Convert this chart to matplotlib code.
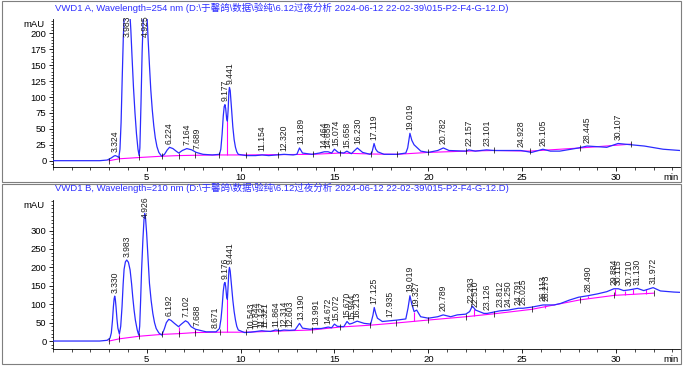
import numpy as np
import matplotlib.pyplot as plt
from matplotlib.patches import Rectangle
from matplotlib.ticker import MultipleLocator, FixedLocator

plt.rcParams['font.family'] = ['Liberation Sans', 'Noto Sans CJK SC']

title_a = 'VWD1 A, Wavelength=254 nm (D:\\于馨鸽\\数据\\验纯\\6.12过夜分析 2024-06-12 22-02-39\\015-P2-F4-G-12.D)'
title_b = 'VWD1 B, Wavelength=210 nm (D:\\于馨鸽\\数据\\验纯\\6.12过夜分析 2024-06-12 22-02-39\\015-P2-F4-G-12.D)'

############ signal A (254 nm) ############
t_a = [0, 2.5, 2.9, 3.1, 3.25, 3.32, 3.42, 3.52, 3.58, 3.64, 3.7, 3.76, 3.8, 3.95, 4.1, 4.16,
       4.22, 4.3, 4.38, 4.46, 4.54, 4.6, 4.64, 4.7, 4.76, 4.82, 4.93, 5.02, 5.08, 5.15, 5.22,
       5.3, 5.38, 5.46, 5.55, 5.65, 5.8, 5.95, 6.1, 6.22, 6.4, 6.57, 6.71, 6.9, 7.14, 7.4,
       7.64, 8.0, 8.5, 8.88, 8.95, 9.02, 9.08, 9.13, 9.17, 9.21, 9.26, 9.3, 9.34, 9.38, 9.41,
       9.45, 9.52, 9.59, 9.66, 9.73, 9.8, 9.88, 10.3, 10.8, 11.15, 11.5, 12.32, 12.8,
       13.0, 13.14, 13.3, 13.8, 14.2, 14.46, 14.66, 14.85, 15.0, 15.2, 15.5, 15.66, 15.9,
       16.22, 16.5, 16.9, 17.0, 17.11, 17.2, 17.3, 17.64, 18.35, 18.8, 18.9, 19.02, 19.12,
       19.24, 19.6, 20.0, 20.5, 20.8, 21.1, 22.0, 22.16, 22.5, 23.1, 23.5, 24.93, 25.5, 26.1,
       26.5, 27.0, 28.0, 28.45, 29.0, 29.5, 30.1, 30.8, 31.5, 32.5, 33.4]
y_a = [0, 0, 1, 4, 7, 8, 7, 5, 18, 60, 130, 195, 225, 245, 235, 205,
       165, 115, 75, 42, 18, 8, 20, 90, 170, 225, 250, 228, 190, 150, 112,
       80, 55, 36, 22, 13, 7, 10, 17, 21, 19, 15, 12, 16, 19, 17,
       13, 10, 9, 10, 18, 42, 70, 85, 88, 82, 66, 62, 80, 108, 115,
       110, 82, 53, 33, 21, 14, 10, 8, 8, 9, 8, 10, 9,
       10, 20, 12, 10, 12, 14, 14, 12, 18, 13, 12, 15, 11,
       20, 13, 10, 13, 27, 18, 14, 10, 10, 12, 20, 43, 32,
       25, 15, 13, 16, 20, 16, 15, 17, 15, 17, 16, 16, 13, 18,
       15, 15, 20, 23, 22, 21, 27, 25, 23, 18, 16]

bl_t_a = [3.0, 3.55, 4.62, 5.8, 6.7, 7.6, 8.88, 10.3, 12.0, 13.85, 15.3, 16.93, 18.35, 20.0,
          22.0, 23.5, 25.4, 28.1, 30.8]
bl_y_a = [0, 3, 5, 7, 8, 8.5, 9, 9, 9.5, 10, 12, 10.5, 10, 13, 15, 16, 15, 20, 26]

drop_t_a = [9.3]
drop_lo_a = [9]
drop_hi_a = [62]

pk_rt_a = [3.324, 3.983, 4.925, 6.224, 7.164, 7.689, 9.177, 9.441, 11.154, 12.320, 13.189,
           14.464, 14.659, 15.074, 15.658, 16.230, 17.119, 19.019, 20.782, 22.157, 23.101,
           24.928, 26.105, 28.445, 30.107]
pk_h_a = [8, 240, 245, 21, 19, 13, 88, 115, 9, 10, 20, 14, 14, 18, 15, 20, 27, 43, 20, 17,
          17, 16, 18, 23, 27]

############ signal B (210 nm) ############
t_b = [0, 2.5, 2.9, 3.05, 3.12, 3.18, 3.23, 3.27, 3.30, 3.33, 3.37, 3.42, 3.47, 3.55, 3.62,
       3.69, 3.75, 3.8, 3.87, 3.94, 4.03, 4.12, 4.2, 4.26, 4.33, 4.40, 4.50, 4.58, 4.63, 4.68,
       4.73, 4.8, 4.86, 4.9, 4.94, 5.0, 5.08, 5.15, 5.24, 5.33, 5.42, 5.51, 5.65, 5.81, 5.95,
       6.05, 6.18, 6.3, 6.48, 6.7, 6.85, 7.07, 7.2, 7.37, 7.6, 8.17, 8.7, 8.88, 8.96, 9.02,
       9.08, 9.13, 9.17, 9.21, 9.26, 9.3, 9.35, 9.38, 9.41, 9.45, 9.52, 9.59, 9.66, 9.73, 9.8,
       9.88, 10.21, 10.54, 10.84, 11.13, 11.32, 11.6, 11.86, 12.1, 12.31, 12.6, 12.9, 13.14,
       13.3, 13.7, 13.99, 14.3, 14.67, 14.85, 15.0, 15.15, 15.5, 15.67, 15.8, 15.94, 16.21,
       16.58, 16.93, 17.05, 17.12, 17.2, 17.29, 17.55, 17.93, 18.35, 18.8, 18.92, 19.02,
       19.12, 19.24, 19.38, 19.59, 20.0, 20.5, 20.79, 21.19, 21.54, 21.99, 22.2, 22.34, 22.52,
       22.96, 23.13, 23.81, 24.25, 24.79, 25.03, 25.5, 26.11, 26.27, 26.7, 27.04, 27.5, 28.0,
       28.49, 29.0, 29.5, 29.88, 30.12, 30.4, 30.71, 31.13, 31.47, 31.97, 32.36, 33.07, 33.5]
y_b = [0, 0, 2, 8, 22, 55, 93, 115, 122, 115, 93, 60, 35, 19, 40,
       93, 155, 195, 215, 220, 214, 193, 155, 120, 85, 57, 30, 16, 40, 110,
       190, 274, 330, 347, 335, 293, 220, 157, 110, 75, 50, 34, 22, 16, 34,
       50, 59, 56, 48, 39, 46, 55, 51, 39, 32, 25, 25, 34, 60, 93,
       135, 155, 159, 148, 120, 113, 160, 190, 200, 190, 150, 111, 80, 57, 40,
       30, 23, 24, 26, 28, 27, 26, 30, 28, 30, 29, 30, 48,
       35, 32, 34, 34, 38, 36, 46, 40, 39, 53, 46, 48, 54,
       48, 46, 70, 91, 75, 62, 53, 55, 57, 60, 90, 123,
       100, 80, 84, 66, 62, 66, 71, 66, 71, 73, 80, 95, 84,
       75, 75, 82, 84, 89, 89, 92, 98, 98, 98, 102, 111, 119,
       123, 128, 134, 142, 142, 137, 139, 143, 137, 145, 136, 133, 132]

bl_t_b = [3.0, 3.55, 4.6, 5.8, 6.7, 7.6, 8.9, 10.3, 12.0, 13.8, 15.3, 16.9, 18.3, 20.0,
          22.0, 23.5, 25.5, 28.1, 29.9, 32.0]
bl_y_b = [0, 6, 13, 18, 20, 23, 24, 24, 27, 30, 38, 43, 49, 57, 66, 74, 86, 112, 124, 130]

drop_t_b = [3.55, 6.7, 7.6, 9.3, 19.24, 22.45, 26.2, 28.49, 29.95, 30.45, 30.9, 31.6]
drop_lo_b = [6, 20, 23, 24, 54, 68, 90, 117, 125, 126, 127, 129]
drop_hi_b = [19, 39, 32, 113, 80, 88, 98, 123, 142, 137, 141, 140]

pk_rt_b = [3.330, 3.983, 4.926, 6.192, 7.102, 7.688, 8.671, 9.176, 9.441, 10.543, 10.844,
           11.127, 11.321, 11.864, 12.314, 12.603, 13.190, 13.991, 14.672, 15.072, 15.670,
           15.944, 16.213, 17.125, 17.935, 19.019, 19.327, 20.789, 22.293, 22.510, 23.126,
           23.812, 24.250, 24.791, 25.025, 26.113, 26.273, 28.490, 29.884, 30.115, 30.710,
           31.130, 31.972]
pk_h_b = [122, 220, 347, 59, 55, 32, 25, 159, 200, 24, 26, 28, 27, 30, 30, 29, 48, 34, 38,
          46, 53, 48, 54, 91, 55, 123, 84, 71, 95, 84, 75, 82, 84, 89, 89, 98, 98, 123, 142,
          142, 139, 143, 145]

fig = plt.figure(figsize=(6.83, 3.67), dpi=100)

# panel frames
fig.patches.append(Rectangle((0.003, 0.504), 0.994, 0.493, transform=fig.transFigure,
                             fill=False, edgecolor='#7f7f7f', lw=0.8))
fig.patches.append(Rectangle((0.003, 0.008), 0.994, 0.492, transform=fig.transFigure,
                             fill=False, edgecolor='#7f7f7f', lw=0.8))

panels = [
    dict(rect=[0.0772, 0.545, 0.9184, 0.403], t=t_a, y=y_a, bl_t=bl_t_a, bl_y=bl_y_a,
         dt=drop_t_a, dlo=drop_lo_a, dhi=drop_hi_a, prt=pk_rt_a, ph=pk_h_a,
         ylim=(-9.9, 222.4), major=np.arange(0, 201, 25), minor=5, cap=189, title=title_a,
         title_y=0.979),
    dict(rect=[0.0772, 0.049, 0.9184, 0.406], t=t_b, y=y_b, bl_t=bl_t_b, bl_y=bl_y_b,
         dt=drop_t_b, dlo=drop_lo_b, dhi=drop_hi_b, prt=pk_rt_b, ph=pk_h_b,
         ylim=(-21.7, 383), major=np.arange(0, 301, 50), minor=10, cap=324, title=title_b,
         title_y=0.489),
]

for p in panels:
    ax = fig.add_axes(p['rect'])
    ax.plot(p['t'], p['y'], color='#2b2bff', lw=0.9, zorder=3)
    ax.plot(p['bl_t'], p['bl_y'], color='#ff00ff', lw=0.8, zorder=2)
    ax.vlines(p['dt'], p['dlo'], p['dhi'], color='#ff00ff', lw=0.8, zorder=2)
    ax.plot(p['bl_t'], p['bl_y'], ls='none', marker='|', color='black', ms=4, mew=0.5, zorder=4)
    for rt, h in zip(p['prt'], p['ph']):
        yy = min(h, p['cap'])
        ax.annotate('%.3f' % rt, xy=(rt, yy), xytext=(0, 2.5), textcoords='offset points',
                    rotation=90, ha='center', va='bottom', fontsize=6.2, color='#202020',
                    annotation_clip=False)
    ax.set_xlim(0, 33.4)
    ax.set_ylim(*p['ylim'])
    ax.xaxis.set_major_locator(FixedLocator([5, 10, 15, 20, 25, 30]))
    ax.xaxis.set_minor_locator(MultipleLocator(1))
    ax.yaxis.set_major_locator(FixedLocator(p['major']))
    ax.yaxis.set_minor_locator(MultipleLocator(p['minor']))
    ax.tick_params(which='major', length=3, width=0.6, labelsize=6.8, pad=1.5)
    ax.tick_params(which='minor', length=1.8, width=0.5)
    for s in ['top', 'right']:
        ax.spines[s].set_visible(False)
    for s in ['left', 'bottom']:
        ax.spines[s].set_linewidth(0.6)
    ax.annotate('mAU', xy=(0, 1), xycoords='axes fraction', xytext=(-6, -1),
                textcoords='offset points', ha='right', va='top', fontsize=6.8)
    ax.annotate('min', xy=(1, 0), xycoords='axes fraction', xytext=(-1, -4.5),
                textcoords='offset points', ha='right', va='top', fontsize=6.8)
    fig.text(0.081, p['title_y'], p['title'], color='#2e2eff', fontsize=6.8, ha='left',
             va='center')

plt.savefig('out.png', dpi=100)
